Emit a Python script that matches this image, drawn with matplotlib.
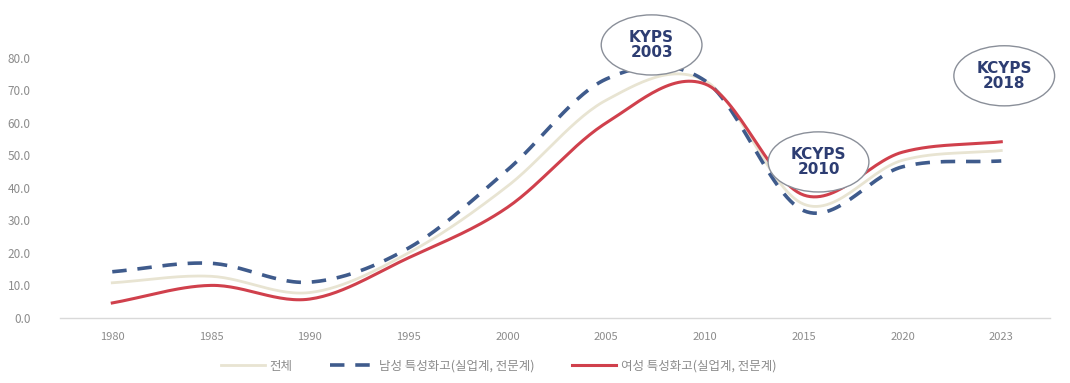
import numpy as np
import matplotlib
matplotlib.use('Agg')
import matplotlib.pyplot as plt
from matplotlib.patches import Ellipse

plt.rcParams['font.family'] = ['Noto Sans CJK KR', 'DejaVu Sans']

# 연도별 값
years = ['1980', '1985', '1990', '1995', '2000', '2005', '2010', '2015', '2020', '2023']
total = [10.8, 12.8, 7.8, 20.0, 40.5, 67.0, 73.0, 35.0, 48.5, 51.5]
male = [14.2, 16.8, 11.0, 21.5, 45.5, 73.5, 73.0, 33.0, 46.5, 48.3]
female = [4.6, 10.0, 5.8, 18.5, 34.0, 60.0, 72.0, 37.8, 51.0, 54.2]

series_names = ['전체', '남성 특성화고(실업계, 전문계)', '여성 특성화고(실업계, 전문계)']

# 조사 표시 (라벨, x 위치, y 위치)
survey_labels = ['KYPS\n2003', 'KCYPS\n2010', 'KCYPS\n2018']
survey_x = [5.46, 7.15, 9.03]
survey_y = [84.0, 48.0, 74.5]


def smooth(y, n=30):
    '''Catmull-Rom 곡선으로 부드럽게'''
    y = np.asarray(y, dtype=float)
    x = np.arange(len(y), dtype=float)
    px = np.concatenate([[2 * x[0] - x[1]], x, [2 * x[-1] - x[-2]]])
    py = np.concatenate([[2 * y[0] - y[1]], y, [2 * y[-1] - y[-2]]])
    xs, ys = [], []
    t = np.linspace(0, 1, n, endpoint=False)
    for i in range(1, len(px) - 2):
        p0, p1, p2, p3 = py[i - 1], py[i], py[i + 1], py[i + 2]
        q0, q1, q2, q3 = px[i - 1], px[i], px[i + 1], px[i + 2]
        ys.append(0.5 * (2 * p1 + (-p0 + p2) * t + (2 * p0 - 5 * p1 + 4 * p2 - p3) * t ** 2
                         + (-p0 + 3 * p1 - 3 * p2 + p3) * t ** 3))
        xs.append(0.5 * (2 * q1 + (-q0 + q2) * t + (2 * q0 - 5 * q1 + 4 * q2 - q3) * t ** 2
                         + (-q0 + 3 * q1 - 3 * q2 + q3) * t ** 3))
    xs.append([x[-1]])
    ys.append([y[-1]])
    return np.concatenate(xs), np.concatenate(ys)


fig = plt.figure(figsize=(10.7, 3.83), dpi=100)
ax = fig.add_axes([0.056, 0.170, 0.925, 0.778])

sx, sy = smooth(total)
ax.plot(sx, sy, color='#e8e4d2', linewidth=2.0, label=series_names[0])
sx, sy = smooth(male)
ax.plot(sx, sy, color='#3f5b8c', linewidth=2.6, dashes=(4, 3), label=series_names[1])
sx, sy = smooth(female)
ax.plot(sx, sy, color='#d0404c', linewidth=2.2, label=series_names[2])

# 조사 시점 타원
for lab, ex, ey in zip(survey_labels, survey_x, survey_y):
    ax.add_patch(Ellipse((ex, ey), 1.02, 18.5, facecolor='white', edgecolor='#8a8f99',
                         linewidth=1.0, zorder=5, clip_on=False))
    ax.text(ex, ey, lab, ha='center', va='center', fontsize=11, fontweight='bold',
            color='#2d3d72', linespacing=1.05, zorder=6,
            family=['Liberation Sans Narrow', 'DejaVu Sans'])

ax.set_xlim(-0.53, 9.49)
ax.set_ylim(0, 91.7)
ax.set_xticks(range(len(years)))
ax.set_xticklabels(years)
ax.set_yticks(np.arange(0, 81, 10))
ax.set_yticklabels(['%.1f' % v for v in np.arange(0, 81, 10)])
ax.tick_params(axis='both', length=0, labelcolor='#8c8c8c')
ax.tick_params(axis='y', pad=21, labelsize=8.5)
ax.tick_params(axis='x', pad=10, labelsize=8)

for s in ['top', 'right', 'left']:
    ax.spines[s].set_visible(False)
ax.spines['bottom'].set_color('#d9d9d9')
ax.spines['bottom'].set_linewidth(1.0)

fig.legend(loc='center', bbox_to_anchor=(0.466, 0.044), ncol=3, frameon=False,
           fontsize=9, labelcolor='#8c8c8c', handlelength=3.5, handletextpad=0.4,
           columnspacing=3.0)

plt.savefig('out.png', dpi=100)
